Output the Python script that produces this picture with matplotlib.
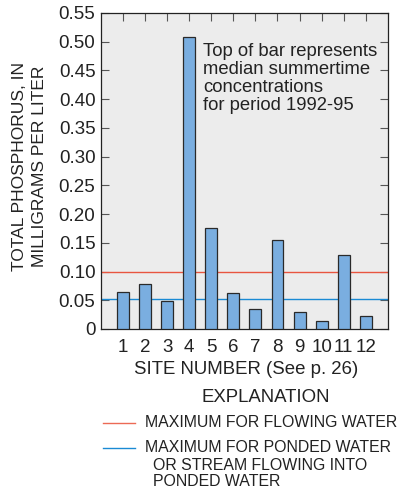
import matplotlib.pyplot as plt
import numpy as np

plt.rcParams['font.family'] = ['Liberation Sans', 'DejaVu Sans']

sites = [1, 2, 3, 4, 5, 6, 7, 8, 9, 10, 11, 12]
phosphorus = [0.064, 0.078, 0.049, 0.508, 0.176, 0.063, 0.035, 0.155, 0.029, 0.014, 0.128, 0.022]
max_flowing = 0.10
max_ponded = 0.053
yticks = np.round(np.arange(0, 0.551, 0.05), 2)
ytick_labels = ['0'] + ['%.2f' % v for v in yticks[1:]]

fig = plt.figure(figsize=(3.99, 4.90), dpi=100)
ax = fig.add_axes([0.253, 0.3286, 0.719, 0.645])
ax.set_facecolor('#ececec')

ax.bar(sites, phosphorus, width=0.54, color='#7aaee0', edgecolor='#2a2a2a', linewidth=0.9, zorder=3)
ax.axhline(max_flowing, color='#e8553f', linewidth=1.0, zorder=2)
ax.axhline(max_ponded, color='#1a8ad4', linewidth=1.0, zorder=2)

ax.set_xlim(0, 13)
ax.set_ylim(0, 0.55)
ax.set_yticks(yticks)
ax.set_yticklabels(ytick_labels, fontsize=13.5, color='#222222')
ax.set_xticks(sites)
ax.set_xticklabels([str(s) for s in sites], fontsize=13.5, color='#222222')
ax.tick_params(axis='y', direction='in', left=True, right=True, length=6, width=0.8, color='#555555', pad=4)
ax.tick_params(axis='x', direction='in', top=True, bottom=False, length=6, width=0.8, color='#555555', pad=7)
for s in ax.spines.values():
    s.set_linewidth(0.9)
    s.set_color('#222222')

ax.text(0.355, 0.905, 'Top of bar represents\nmedian summertime\nconcentrations\nfor period 1992-95',
        transform=ax.transAxes, ha='left', va='top', fontsize=13.3, linespacing=1.07, color='#222222')

fig.text(0.05, 0.660, 'TOTAL PHOSPHORUS, IN', rotation=90, ha='center', va='center', fontsize=12.5, color='#222222')
fig.text(0.10, 0.660, 'MILLIGRAMS PER LITER', rotation=90, ha='center', va='center', fontsize=12.5, color='#222222')

fig.text(0.618, 0.245, 'SITE NUMBER (See p. 26)', ha='center', va='center', fontsize=13.4, color='#222222')
fig.text(0.667, 0.188, 'EXPLANATION', ha='center', va='center', fontsize=13.4, color='#222222')

# explanation entries
fig.add_artist(plt.Line2D([0.258, 0.338], [0.137, 0.137], color='#ec6a55', linewidth=1.0))
fig.text(0.363, 0.137, 'MAXIMUM FOR FLOWING WATER', ha='left', va='center', fontsize=11.4, color='#222222')
fig.add_artist(plt.Line2D([0.258, 0.338], [0.086, 0.086], color='#1a8ad4', linewidth=1.0))
fig.text(0.363, 0.086, 'MAXIMUM FOR PONDED WATER', ha='left', va='center', fontsize=11.4, color='#222222')
fig.text(0.383, 0.051, 'OR STREAM FLOWING INTO', ha='left', va='center', fontsize=11.4, color='#222222')
fig.text(0.383, 0.018, 'PONDED WATER', ha='left', va='center', fontsize=11.4, color='#222222')

fig.savefig('out.png', dpi=100)
